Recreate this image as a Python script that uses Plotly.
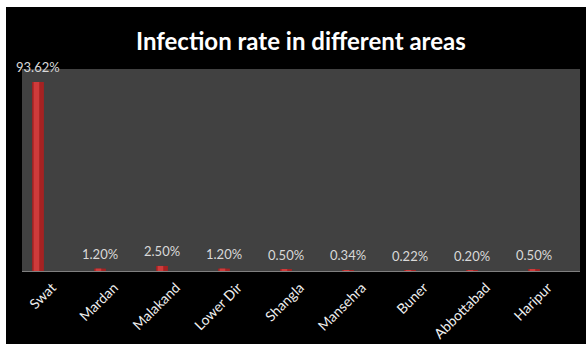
import plotly.graph_objects as go

categories = ["Swat", "Mardan", "Malakand", "Lower Dir", "Shangla", "Mansehra", "Buner", "Abbottabad", "Haripur"]
values = [93.62, 1.20, 2.50, 1.20, 0.50, 0.34, 0.22, 0.20, 0.50]
labels = ["93.62%", "1.20%", "2.50%", "1.20%", "0.50%", "0.34%", "0.22%", "0.20%", "0.50%"]
title_text = "Infection rate in different areas"

W, H = 586, 344
L, R, T, B = 22, 6, 69, 73
pw, ph = W - L - R, H - T - B

def px_x(p):
    return (p - L) / pw

def px_y(p):
    return (H - B - p) / ph

fig = go.Figure()
# cylinder-like bars: dark body + lighter highlight
fig.add_trace(go.Bar(x=categories, y=values, width=0.19,
                     marker=dict(color="#a52222", line=dict(width=0)),
                     hoverinfo="skip", showlegend=False))
fig.add_trace(go.Bar(x=categories, y=values, width=0.09, offset=-0.07,
                     marker=dict(color="#cf3b3b", line=dict(width=0)),
                     hoverinfo="skip", showlegend=False))

for c, v, t in zip(categories, values, labels):
    fig.add_annotation(x=c, y=v, text=t, showarrow=False, yanchor="bottom",
                       yshift=5, font=dict(family="Lato", size=13, color="#d9d9d9"))

fig.add_annotation(xref="paper", yref="paper", x=0.5, y=px_y(40), text="<b>" + title_text + "</b>",
                   showarrow=False, yanchor="middle", xanchor="center",
                   font=dict(family="Lato", size=24, color="#ffffff"))

shapes = [
    dict(type="rect", xref="paper", yref="paper", x0=px_x(6), x1=px_x(W + 20),
         y0=px_y(H + 40), y1=px_y(7), fillcolor="#000000", line=dict(width=0), layer="below"),
    dict(type="rect", xref="paper", yref="paper", x0=0, x1=1, y0=0, y1=1,
         fillcolor="#414141", line=dict(width=0), layer="below"),
]

fig.update_layout(
    width=W, height=H,
    margin=dict(l=L, r=R, t=T, b=B, pad=0, autoexpand=False),
    paper_bgcolor="#ffffff",
    plot_bgcolor="rgba(0,0,0,0)",
    barmode="overlay",
    shapes=shapes,
    showlegend=False,
)
fig.update_xaxes(type="category", categoryorder="array", categoryarray=categories,
                 range=[(22 - 38) / 62, (580 - 38) / 62], automargin=False,
                 tickangle=-45, ticks="", showgrid=False, zeroline=False,
                 showline=True, linecolor="#7f7f7f", linewidth=1,
                 tickfont=dict(family="Lato", size=14, color="#f0f0f0"),
                 ticklabelshift=14, ticklabelstandoff=2)
fig.update_yaxes(range=[0, 100], visible=False, showgrid=False, zeroline=False, automargin=False)

fig.write_html("out.html")
